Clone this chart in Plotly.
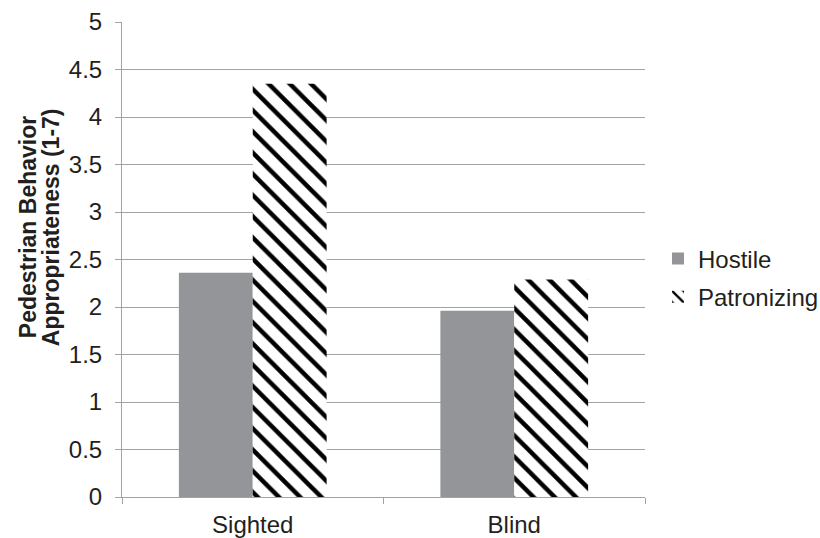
import plotly.graph_objects as go

# Group labels and mean ratings per condition
categories = ["Sighted", "Blind"]
hostile = [2.36, 1.96]
patronizing = [4.35, 2.29]
y_ticks = [0, 0.5, 1, 1.5, 2, 2.5, 3, 3.5, 4, 4.5, 5]
y_tick_labels = ["0", "0.5", "1", "1.5", "2", "2.5", "3", "3.5", "4", "4.5", "5"]
title_lines = ["Pedestrian Behavior", "Appropriateness (1-7)"]

FONT = "Liberation Sans, Arial, sans-serif"
GRID = "#a3a3a3"
TEXT = "#231f20"
W, H = 820, 538
L, R, T, B = 122, 175, 22, 41

fig = go.Figure()
fig.add_trace(go.Bar(
    name="Hostile", x=categories, y=hostile,
    marker=dict(color="#939598", line=dict(width=0)),
    legendgroup="h",
))
fig.add_trace(go.Bar(
    name="Patronizing", x=categories, y=patronizing,
    marker=dict(
        color="white",
        line=dict(width=0),
        pattern=dict(shape="\\", fgcolor="black", bgcolor="white",
                     size=15, solidity=0.3, fillmode="replace"),
    ),
    legendgroup="p",
))

# Two-line y-axis title, one annotation per line for tight line spacing
plot_w = W - L - R
title_annotations = [
    dict(text=f"<b>{line}</b>", xref="paper", yref="paper",
         x=(px - L) / plot_w, y=0.568, xanchor="center", yanchor="middle",
         textangle=-90, showarrow=False,
         font=dict(size=23, family=FONT, color=TEXT))
    for line, px in zip(title_lines, [28, 51])
]

fig.update_layout(
    width=W, height=H,
    margin=dict(l=L, r=R, t=T, b=B, autoexpand=False),
    paper_bgcolor="white", plot_bgcolor="white",
    barmode="group", bargap=0.435, bargroupgap=0,
    font=dict(family=FONT, size=24, color=TEXT),
    legend=dict(xref="container", yref="container",
                x=658 / W, xanchor="left", y=1 - 278 / H, yanchor="middle",
                font=dict(size=24), tracegroupgap=4, itemwidth=30),
    xaxis=dict(
        showline=True, linecolor=GRID, linewidth=1,
        ticks="outside", tickson="boundaries", ticklen=6, tickcolor=GRID,
        showgrid=False, tickfont=dict(size=24), ticklabelstandoff=6,
        automargin=False,
    ),
    yaxis=dict(
        range=[0, 5], tickvals=y_ticks, ticktext=y_tick_labels,
        showline=True, linecolor=GRID, linewidth=1,
        ticks="outside", ticklen=6, tickcolor=GRID,
        showgrid=True, gridcolor=GRID, gridwidth=1,
        zeroline=False, tickfont=dict(size=24), ticklabelstandoff=8,
        automargin=False,
    ),
    annotations=title_annotations,
)

fig.write_html("out.html")
